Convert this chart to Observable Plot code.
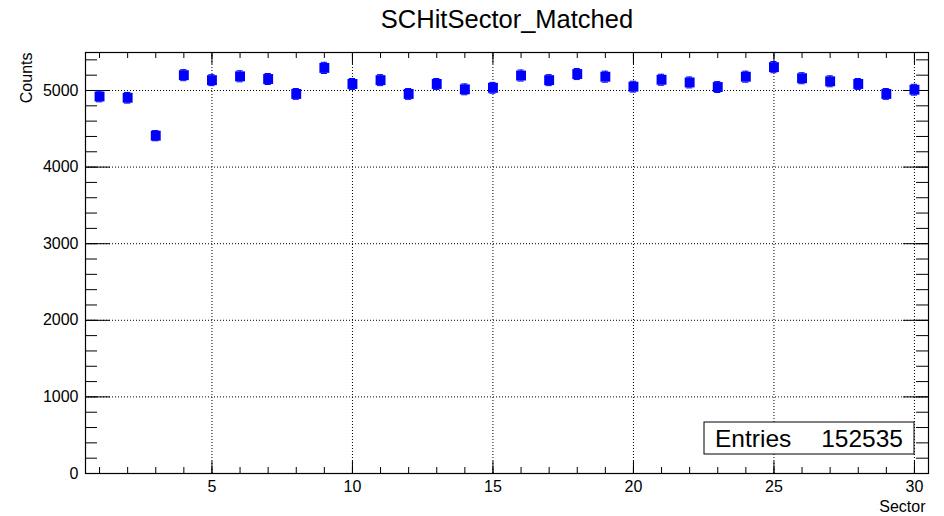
<!DOCTYPE html>
<html>
<head>
<meta charset="utf-8">
<script src="https://cdn.jsdelivr.net/npm/d3@7"></script>
<script src="https://cdn.jsdelivr.net/npm/@observablehq/plot@0.6"></script>
<style>
  html, body { margin: 0; padding: 0; background: #fff; }
  #chart svg { display: block; }
</style>
</head>
<body>
<div id="chart"></div>
<script>
const titleText = "SCHitSector_Matched";
const xLabel = "Sector";
const yLabel = "Counts";
const entriesLabel = "Entries";
const entriesValue = "152535";

const sectors = [1,2,3,4,5,6,7,8,9,10,11,12,13,14,15,16,17,18,19,20,21,22,23,24,25,26,27,28,29,30];
const counts = [4922,4905,4410,5200,5135,5185,5150,4955,5295,5085,5135,4955,5085,5015,5035,5195,5135,5215,5180,5050,5140,5105,5045,5180,5305,5160,5120,5085,4955,5010];

const xMajor = [5,10,15,20,25,30];
const xMinor = sectors;
const yMajor = [0,1000,2000,3000,4000,5000];
const yMinor = d3.range(0, 5401, 200);

const data = sectors.map((s, i) => ({sector: s, count: counts[i], err: Math.sqrt(counts[i])}));

const W = 944, H = 516;
const mL = 85, mR = 16, mT = 52, mB = 43;
const pw = W - mL - mR, ph = H - mT - mB;
const font = "'Liberation Sans', Arial, Helvetica, sans-serif";

const statsBox = (index, scales, values, dims) => {
  const g = d3.create("svg:g");
  const x0 = 704, y0 = 422, bw = 210, bh = 32;
  g.append("rect").attr("x", x0).attr("y", y0).attr("width", bw).attr("height", bh)
    .attr("fill", "#fff").attr("stroke", "#000").attr("stroke-width", 1);
  g.append("text").attr("x", x0 + 11).attr("y", y0 + 25).attr("font-size", 24.5)
    .attr("text-anchor", "start").attr("font-family", font).attr("fill", "#000").text(entriesLabel);
  g.append("text").attr("x", x0 + bw - 11).attr("y", y0 + 25).attr("font-size", 24.5)
    .attr("text-anchor", "end").attr("font-family", font).attr("fill", "#000").text(entriesValue);
  return g.node();
};

const chart = Plot.plot({
  width: W, height: H,
  marginLeft: mL, marginRight: mR, marginTop: mT, marginBottom: mB,
  style: {fontFamily: font, fontSize: "16px", color: "#000", background: "#fff"},
  x: {domain: [0.5, 30.5], axis: null},
  y: {domain: [0, 5496], axis: null},
  marks: [
    // grid
    Plot.ruleX(xMajor, {stroke: "#000", strokeDasharray: "1,2", strokeWidth: 1}),
    Plot.ruleY(yMajor.filter(d => d > 0), {stroke: "#000", strokeDasharray: "1,2", strokeWidth: 1}),
    // x ticks bottom/top
    Plot.ruleX(xMinor, {stroke: "#000", insetTop: ph - 6}),
    Plot.ruleX(xMinor, {stroke: "#000", insetBottom: ph - 6}),
    Plot.ruleX(xMajor, {stroke: "#000", insetTop: ph - 12}),
    Plot.ruleX(xMajor, {stroke: "#000", insetBottom: ph - 12}),
    // y ticks left/right
    Plot.ruleY(yMinor, {stroke: "#000", insetRight: pw - 12}),
    Plot.ruleY(yMinor, {stroke: "#000", insetLeft: pw - 12}),
    Plot.ruleY(yMajor, {stroke: "#000", insetRight: pw - 25}),
    Plot.ruleY(yMajor, {stroke: "#000", insetLeft: pw - 25}),
    Plot.frame({stroke: "#000", strokeWidth: 1.2}),
    // axes labels
    Plot.axisX({ticks: xMajor, tickSize: 0, tickPadding: 7, fontSize: 16, label: null, tickFormat: d => `${d}`}),
    Plot.axisY({ticks: yMajor, tickSize: 0, tickPadding: 7, fontSize: 16, label: null, tickFormat: d => `${d}`}),
    // error bars
    Plot.ruleX(data, {x: "sector", y1: d => d.count - d.err, y2: d => d.count + d.err, stroke: "#0000ff", strokeWidth: 1}),
    Plot.ruleY(data, {y: d => d.count - d.err, x1: d => d.sector - 0.11, x2: d => d.sector + 0.11, stroke: "#0000ff", strokeWidth: 1}),
    Plot.ruleY(data, {y: d => d.count + d.err, x1: d => d.sector - 0.11, x2: d => d.sector + 0.11, stroke: "#0000ff", strokeWidth: 1}),
    // markers
    Plot.dot(data, {x: "sector", y: "count", symbol: "square", r: 5.6, fill: "#0000ff", stroke: "none"}),
    // texts
    Plot.text([titleText], {frameAnchor: "top", dy: -33, lineAnchor: "middle", fontSize: 25.5, fill: "#000"}),
    Plot.text([yLabel], {frameAnchor: "top-left", dx: -59, rotate: -90, textAnchor: "end", lineAnchor: "middle", fontSize: 16, fill: "#000"}),
    Plot.text([xLabel], {frameAnchor: "bottom-right", dx: -3, dy: 33, textAnchor: "end", lineAnchor: "middle", fontSize: 16, fill: "#000"}),
    statsBox
  ]
});
document.getElementById("chart").appendChild(chart);
</script>
</body>
</html>
